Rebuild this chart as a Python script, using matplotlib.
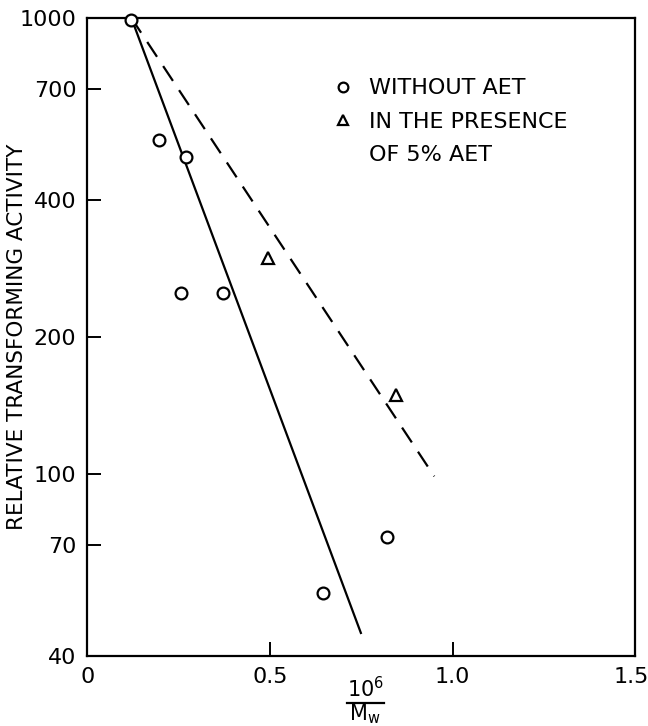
import matplotlib
matplotlib.use("Agg")
import matplotlib.pyplot as plt
from matplotlib.lines import Line2D
from matplotlib.transforms import ScaledTranslation

# Data
x_without = [0.12, 0.195, 0.27, 0.255, 0.37, 0.645, 0.82]
y_without = [990, 540, 495, 250, 250, 55, 73]
x_aet = [0.495, 0.845]
y_aet = [298, 149]
fit_without_x = [0.12, 0.75]
fit_without_y = [1000, 44.7]
fit_aet_x = [0.12, 0.95]
fit_aet_y = [1000, 99]

yticks = [40, 70, 100, 200, 400, 700, 1000]
xticks = [0, 0.5, 1.0, 1.5]
xticklabels = ["0", "0.5", "1.0", "1.5"]
label_without = "WITHOUT AET"
label_aet_1 = "IN THE PRESENCE"
label_aet_2 = "OF 5% AET"
ylabel_text = "RELATIVE TRANSFORMING ACTIVITY"
xlabel_num = r'10$\mathregular{^{6}}$'
xlabel_den = r'M$\mathregular{_{w}}$'

plt.rcParams['font.family'] = ['DejaVu Sans']
plt.rcParams['mathtext.fontset'] = 'dejavusans'

fig = plt.figure(figsize=(6.48, 7.26), dpi=100)
ax = fig.add_axes([0.135, 0.0964, 0.845, 0.879])

ax.set_yscale('log')
ax.set_xlim(0, 1.5)
ax.set_ylim(40, 1000)

ax.plot(fit_without_x, fit_without_y, color='black', lw=1.6, solid_capstyle='butt')
ax.plot(fit_aet_x, fit_aet_y, color='black', lw=1.6, linestyle=(0, (8, 5)))
ax.plot(x_without, y_without, linestyle='none', marker='o', ms=8.5,
        mfc='white', mec='black', mew=1.6, clip_on=False, zorder=3)
ax.plot(x_aet, y_aet, linestyle='none', marker='^', ms=9,
        mfc='white', mec='black', mew=1.6, clip_on=False, zorder=3)

ax.set_yticks(yticks)
ax.set_yticklabels([str(v) for v in yticks])
ax.yaxis.set_minor_locator(matplotlib.ticker.NullLocator())
ax.set_xticks(xticks)
ax.set_xticklabels(xticklabels)

ax.tick_params(axis='both', which='major', direction='in', length=10, width=1.4,
               labelsize=16, pad=8)
for s in ax.spines.values():
    s.set_linewidth(1.6)

# shift last x tick label slightly left to stay inside the figure
lbl = ax.get_xticklabels()[-1]
lbl.set_transform(lbl.get_transform() + ScaledTranslation(-2.5 / 72, 0, fig.dpi_scale_trans))

ax.set_ylabel(ylabel_text, fontsize=15.5, va='center')
ax.yaxis.set_label_coords(-0.129, 0.5)

# x label drawn as a stacked fraction
ax.text(0.507, -0.0643, xlabel_num, transform=ax.transAxes, ha='center',
        va='baseline', fontsize=15)
ax.plot([0.474, 0.542], [-0.0737, -0.0737], transform=ax.transAxes,
        color='black', lw=1.6, clip_on=False)
ax.text(0.507, -0.1015, xlabel_den, transform=ax.transAxes, ha='center',
        va='baseline', fontsize=15)

handles = [
    Line2D([], [], linestyle='none', marker='o', ms=7, mfc='white', mec='black', mew=1.6),
    Line2D([], [], linestyle='none', marker='^', ms=7, mfc='white', mec='black', mew=1.6),
    Line2D([], [], linestyle='none', marker=None),
]
ax.legend(handles, [label_without, label_aet_1, label_aet_2],
          loc='upper left', bbox_to_anchor=(0.45, 0.905), frameon=False,
          fontsize=16, handlelength=0.8, handletextpad=0.8, labelspacing=0.6,
          borderpad=0, borderaxespad=0)

fig.savefig("out.png", dpi=100)
